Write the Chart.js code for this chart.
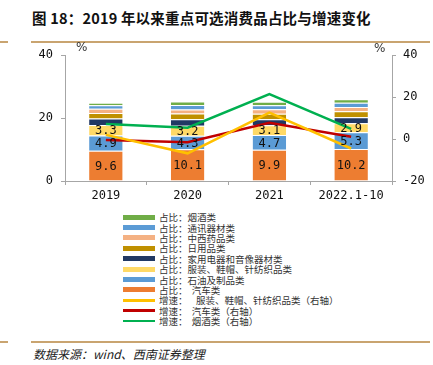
<!DOCTYPE html>
<html><head><meta charset="utf-8">
<script src="https://cdn.jsdelivr.net/npm/chart.js@4"></script>
<style>
html,body{margin:0;padding:0;background:#fff;width:433px;height:365px;overflow:hidden;position:relative;font-family:"Noto Sans CJK SC",sans-serif;}
#title{position:absolute;left:32px;top:7px;font-size:14.5px;font-weight:bold;color:#111;white-space:nowrap;letter-spacing:0.2px;}
.gl{position:absolute;height:2px;background:#c9a470;}
#wrap{position:absolute;left:0;top:40px;width:433px;height:170px;}
.pct{position:absolute;font-size:12px;color:#333;font-family:"DejaVu Sans",sans-serif;}
#legend{position:absolute;left:123px;top:212px;}
.li{height:10.4px;display:flex;align-items:center;font-size:9.5px;color:#333;white-space:pre;line-height:10px;}
.sw{width:32px;margin-right:4px;flex:none;}
#src{position:absolute;left:33px;top:345px;font-size:12px;font-style:italic;color:#222;white-space:nowrap;}
</style></head>
<body>
<div id="title">图 18：2019 年以来重点可选消费品占比与增速变化</div>
<div class="gl" style="left:0;top:41px;width:8px"></div>
<div class="gl" style="left:31px;top:41px;width:399px"></div>
<div id="wrap"><canvas id="c" width="433" height="170"></canvas></div>
<div class="pct" style="left:76px;top:40px">%</div>
<div class="pct" style="left:374px;top:41px">%</div>
<div id="legend"></div>
<div class="gl" style="left:0;top:341px;width:8px"></div>
<div class="gl" style="left:31px;top:341px;width:399px"></div>
<div id="src">数据来源：wind、西南证券整理</div>
<script>
const categories = ['2019','2020','2021','2022.1-10'];
const autoShare      = [9.6, 10.1, 9.9, 10.2];
const oilShare       = [4.9, 4.3, 4.7, 5.3];
const apparelShare   = [3.3, 3.2, 3.1, 2.9];
const applianceShare = [2.1, 2.0, 1.9, 1.9];
const dailyShare     = [1.7, 1.9, 1.8, 1.9];
const medicineShare  = [1.4, 1.2, 1.4, 1.3];
const telecomShare   = [1.1, 1.5, 1.3, 1.4];
const tobaccoShare   = [0.8, 1.1, 1.1, 1.1];
const apparelGrowth  = [2.0, -6.8, 12.6, -4.5];
const autoGrowth     = [-0.5, -1.5, 7.8, 1.1];
const tobaccoGrowth  = [7.2, 5.4, 21.4, 4.9];
const leftTicks = [0, 20, 40];
const rightTicks = [-20, 0, 20, 40];

function bar(label, data, color, showLabel){
  return {type:'bar', label, data, backgroundColor:color, borderColor:'rgba(255,255,255,0.7)', borderWidth:{top:1}, borderSkipped:false,
    yAxisID:'y', stack:'s', order:2, barPercentage:0.41, categoryPercentage:1, showLabel};
}
function line(label, data, color){
  return {type:'line', label, data, borderColor:color, backgroundColor:color, borderWidth:2.5, pointRadius:0, tension:0, yAxisID:'y1', order:0};
}
const barSets = [
  bar('占比：  汽车类', autoShare, '#ed7d31', true),
  bar('占比：石油及制品类', oilShare, '#5b9bd5', true),
  bar('占比：服装、鞋帽、针纺织品类', apparelShare, '#ffd966', true),
  bar('占比：家用电器和音像器材类', applianceShare, '#203864', false),
  bar('占比：日用品类', dailyShare, '#bf9000', false),
  bar('占比：中西药品类', medicineShare, '#f4b183', false),
  bar('占比：通讯器材类', telecomShare, '#5b9bd5', false),
  bar('占比：烟酒类', tobaccoShare, '#70ad47', false),
];
const lineSets = [
  line('增速：    服装、鞋帽、针纺织品类（右轴）', apparelGrowth, '#ffc000'),
  line('增速：  汽车类（右轴）', autoGrowth, '#c00000'),
  line('增速：  烟酒类（右轴）', tobaccoGrowth, '#00b050'),
];

const labelPlugin = {
  id:'segLabels',
  afterDatasetsDraw(chart){
    const ctx = chart.ctx;
    ctx.save();
    ctx.font = '12px "DejaVu Sans Mono", monospace';
    ctx.fillStyle = '#111';
    ctx.textAlign = 'center';
    ctx.textBaseline = 'middle';
    chart.data.datasets.forEach((ds, i) => {
      if (!ds.showLabel) return;
      const meta = chart.getDatasetMeta(i);
      meta.data.forEach((el, j) => {
        const p = el.getProps(['x','y','base'], true);
        ctx.fillText(ds.data[j].toFixed(1), p.x, (p.y + p.base) / 2 + 1);
      });
    });
    ctx.restore();
  }
};

const axisColor = '#a6a6a6';
const tickFont = {family:'"DejaVu Sans Mono", monospace', size:12};
const chart = new Chart(document.getElementById('c'), {
  data:{labels:categories, datasets:[...barSets, ...lineSets]},
  options:{
    responsive:false, animation:false,
    layout:{padding:{top:12,left:0,right:0,bottom:0}},
    plugins:{legend:{display:false}, tooltip:{enabled:false}},
    scales:{
      x:{stacked:true, offset:true,
        grid:{display:true, offset:true, drawOnChartArea:false, drawTicks:true, tickLength:4, color:axisColor},
        border:{color:axisColor, width:1},
        ticks:{color:'#111', font:tickFont, padding:4, maxRotation:0},
        afterFit(s){ s.height = 29; }},
      y:{stacked:true, position:'left', min:0, max:40,
        afterBuildTicks(s){ s.ticks = leftTicks.map(v=>({value:v})); },
        grid:{display:true, drawOnChartArea:false, drawTicks:true, tickLength:4, color:axisColor},
        border:{color:axisColor, width:1},
        ticks:{color:'#111', font:tickFont, padding:8},
        afterFit(s){ s.width = 65; }},
      y1:{position:'right', min:-20, max:40,
        afterBuildTicks(s){ s.ticks = rightTicks.map(v=>({value:v})); },
        grid:{display:true, drawOnChartArea:false, drawTicks:true, tickLength:4, color:axisColor},
        border:{color:axisColor, width:1},
        ticks:{color:'#111', font:tickFont, padding:7},
        afterFit(s){ s.width = 41; }}
    }
  },
  plugins:[labelPlugin]
});

// HTML legend built from the datasets (bars listed top-of-stack first, then lines)
const legendItems = [...barSets].reverse().concat(lineSets);
const lg = document.getElementById('legend');
legendItems.forEach(ds => {
  const row = document.createElement('div'); row.className = 'li';
  const sw = document.createElement('div'); sw.className = 'sw';
  if (ds.type === 'bar') { sw.style.height = '5px'; sw.style.background = ds.backgroundColor; }
  else { sw.style.height = '2.5px'; sw.style.background = ds.borderColor; }
  const t = document.createElement('span'); t.textContent = ds.label;
  row.appendChild(sw); row.appendChild(t); lg.appendChild(row);
});
</script>
</body></html>
